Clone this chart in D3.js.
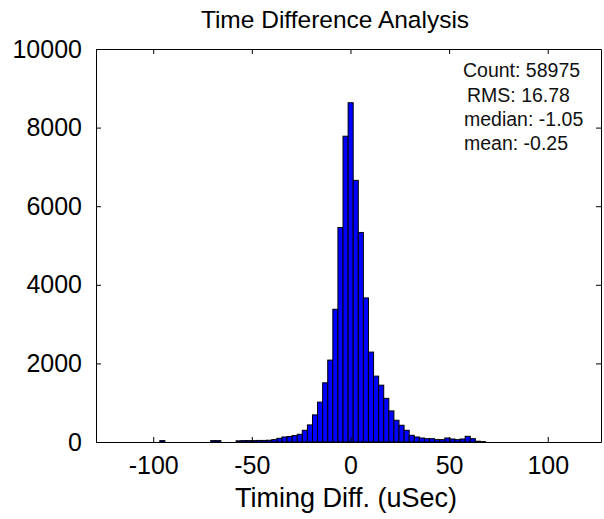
<!DOCTYPE html>
<html>
<head>
<meta charset="utf-8">
<script src="https://cdn.jsdelivr.net/npm/d3@7/dist/d3.min.js"></script>
<style>
  html, body { margin: 0; padding: 0; background: #fff; }
  svg { display: block; font-family: "Liberation Sans", Arial, sans-serif; }
</style>
</head>
<body>
<svg id="chart" width="604" height="519"></svg>
<script>
// ---- data ----
const binWidth = 2.58;
const binCenters = [
  -95.37, -69.57, -66.99,
  -56.67, -54.09, -51.51, -48.93, -46.35, -43.77, -41.19,
  -38.61, -36.03, -33.45, -30.87, -28.29, -25.71, -23.13, -20.55, -17.97, -15.39,
  -12.81, -10.23, -7.65, -5.07, -2.49, 0.09, 2.67, 5.25, 7.83, 10.41,
  12.99, 15.57, 18.15, 20.73, 23.31, 25.89, 28.47, 31.05, 33.63, 36.21,
  38.79, 41.37, 43.95, 46.53, 49.11, 51.69, 54.27, 56.85, 59.43, 62.01,
  64.59, 67.17
];
const counts = [
  35, 35, 35,
  30, 35, 35, 35, 40, 40, 45,
  60, 94, 128, 140, 165, 196, 298, 435, 690, 1015,
  1506, 2084, 3377, 5459, 7781, 8633, 6658, 5332, 3666, 2288,
  1676, 1446, 1110, 791, 553, 426, 298, 171, 128, 102,
  85, 85, 60, 60, 102, 77, 60, 77, 145, 85,
  20, 10
];
const xTicks = [-100, -50, 0, 50, 100];
const yTicks = [0, 2000, 4000, 6000, 8000, 10000];
const xDomain = [-129, 127];
const yDomain = [0, 10000];
const statLines = ["Count: 58975", "RMS: 16.78", "median: -1.05", "mean: -0.25"];
const titleText = "Time Difference Analysis";
const xLabelText = "Timing Diff. (uSec)";

// ---- layout ----
const svg = d3.select("#chart");
const L = 96, R = 601, T = 49, B = 442;
const x = d3.scaleLinear().domain(xDomain).range([L, R]);
const y = d3.scaleLinear().domain(yDomain).range([B, T]);
const fmt = d => String(d); // plain hyphen-minus, no thousands separator

const bins = binCenters.map((c, i) => ({ x0: c - binWidth / 2, x1: c + binWidth / 2, n: counts[i] }));

// bars
svg.append("g").selectAll("rect").data(bins).join("rect")
  .attr("x", d => x(d.x0))
  .attr("y", d => y(d.n))
  .attr("width", d => x(d.x1) - x(d.x0))
  .attr("height", d => y(0) - y(d.n))
  .attr("fill", "#0000ff")
  .attr("stroke", "#000")
  .attr("stroke-width", 1);

// axes (inward ticks on all four sides, Matlab style box)
const tickLen = 5;
const axB = svg.append("g").attr("transform", `translate(0,${B})`)
  .call(d3.axisBottom(x).tickValues(xTicks).tickSizeInner(-tickLen).tickSizeOuter(0).tickPadding(14).tickFormat(fmt));
const axT = svg.append("g").attr("transform", `translate(0,${T})`)
  .call(d3.axisTop(x).tickValues(xTicks).tickSizeInner(-tickLen).tickSizeOuter(0).tickFormat(""));
const axL = svg.append("g").attr("transform", `translate(${L},0)`)
  .call(d3.axisLeft(y).tickValues(yTicks).tickSizeInner(-tickLen).tickSizeOuter(0).tickPadding(14).tickFormat(fmt));
const axR = svg.append("g").attr("transform", `translate(${R},0)`)
  .call(d3.axisRight(y).tickValues(yTicks).tickSizeInner(-tickLen).tickSizeOuter(0).tickFormat(""));

[axB, axT, axL, axR].forEach(g => {
  g.selectAll(".domain").attr("stroke", "#000").attr("stroke-width", 1);
  g.selectAll(".tick line").attr("stroke", "#000");
  g.selectAll("text").attr("fill", "#000")
    .style("font-family", "'Liberation Sans', Arial, sans-serif")
    .style("font-size", "25px");
});
axB.selectAll(".tick text").attr("dy", "0.71em");

// title
svg.append("text")
  .attr("x", 335).attr("y", 28)
  .attr("text-anchor", "middle")
  .style("font-size", "24.5px")
  .attr("fill", "#000")
  .text(titleText);

// x label
svg.append("text")
  .attr("x", 346).attr("y", 507)
  .attr("text-anchor", "middle")
  .style("font-size", "27px")
  .attr("fill", "#000")
  .text(xLabelText);

// statistics text
const statX = [463, 467, 464, 464];
const statY = [77, 102, 126, 150];
svg.append("g").selectAll("text").data(statLines).join("text")
  .attr("x", (d, i) => statX[i])
  .attr("y", (d, i) => statY[i])
  .style("font-size", "19.5px")
  .attr("fill", "#111")
  .text(d => d);
</script>
</body>
</html>
